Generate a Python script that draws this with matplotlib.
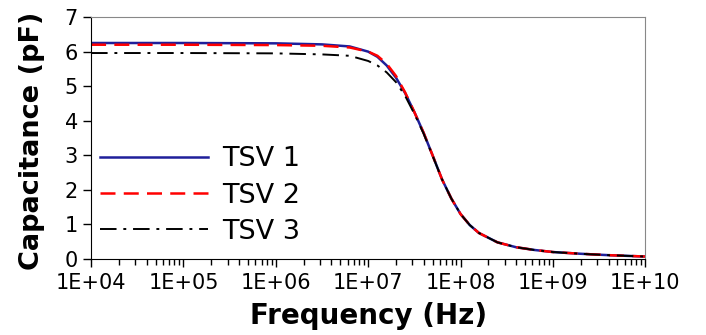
import matplotlib
matplotlib.use('Agg')
import matplotlib.pyplot as plt
import matplotlib.ticker as mticker
import numpy as np

log_freq = [4, 5, 6, 6.5, 6.8, 7.0, 7.1, 7.2, 7.3, 7.4, 7.5, 7.6, 7.7, 7.8,
            7.9, 8.0, 8.1, 8.2, 8.4, 8.6, 8.8, 9.0, 9.3, 9.6, 10]
tsv1 = [6.25, 6.25, 6.24, 6.21, 6.15, 6.0, 5.85, 5.6, 5.25, 4.8, 4.25, 3.65,
        2.98, 2.3, 1.75, 1.3, 0.98, 0.75, 0.48, 0.34, 0.26, 0.2, 0.15, 0.11, 0.07]
tsv2 = [6.2, 6.2, 6.19, 6.17, 6.12, 6.0, 5.88, 5.65, 5.3, 4.82, 4.25, 3.65,
        2.98, 2.3, 1.75, 1.3, 0.98, 0.75, 0.48, 0.34, 0.26, 0.2, 0.15, 0.11, 0.07]
tsv3 = [5.96, 5.96, 5.95, 5.92, 5.88, 5.73, 5.6, 5.4, 5.12, 4.72, 4.2, 3.63,
        2.97, 2.3, 1.75, 1.3, 0.98, 0.75, 0.48, 0.34, 0.26, 0.2, 0.15, 0.11, 0.07]
labels = ['TSV 1', 'TSV 2', 'TSV 3']

freq = 10.0 ** np.array(log_freq)

fig = plt.figure(figsize=(7.06, 3.35), dpi=100)
ax = fig.add_axes([0.129, 0.227, 0.785, 0.722])

ax.plot(freq, tsv1, color='#1f1f9a', lw=1.8, ls='-', label=labels[0])
ax.plot(freq, tsv2, color='#ff0000', lw=1.8, ls=(0, (6, 3.3)), label=labels[1])
ax.plot(freq, tsv3, color='black', lw=1.4, ls=(0, (8.5, 3.5, 1.5, 3.5)), label=labels[2])

ax.set_xscale('log')
ax.set_xlim(1e4, 1e10)
ax.set_ylim(0, 7)
ax.set_yticks(range(0, 8))
ax.xaxis.set_major_locator(mticker.LogLocator(base=10, numticks=20))
ax.xaxis.set_minor_locator(mticker.LogLocator(base=10, subs=np.arange(2, 10), numticks=20))
ax.xaxis.set_minor_formatter(mticker.NullFormatter())
ax.xaxis.set_major_formatter(mticker.FuncFormatter(
    lambda v, p: '1E+%02d' % int(round(np.log10(v)))))

ax.tick_params(axis='both', which='major', labelsize=15, direction='out', length=6, width=1)
ax.tick_params(axis='x', which='minor', direction='out', length=4, width=1)
ax.tick_params(top=False, right=False, which='both')
ax.tick_params(axis='x', pad=4)

for s in ['top', 'right']:
    ax.spines[s].set_color('#888888')
for s in ['left', 'bottom']:
    ax.spines[s].set_color('black')

ax.set_xlabel('Frequency (Hz)', fontsize=20, fontweight='bold')
ax.set_ylabel('Capacitance (pF)', fontsize=19.5, fontweight='bold')
ax.xaxis.set_label_coords(0.5, -0.178)
ax.yaxis.set_label_coords(-0.083, 0.49)

ax.legend(loc='lower left', frameon=False, fontsize=19.5, handlelength=4.0,
          handletextpad=0.5, labelspacing=0.38, borderaxespad=0.3,
          bbox_to_anchor=(-0.018, -0.02))

plt.savefig('out.png', dpi=100)
